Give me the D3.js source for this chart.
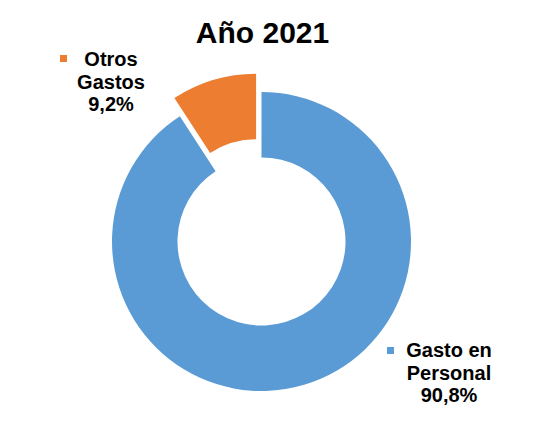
<!DOCTYPE html>
<html>
<head>
<meta charset="utf-8">
<script src="https://cdn.jsdelivr.net/npm/d3@7"></script>
<style>
  body { margin: 0; background: #fff; }
  text { font-family: "Liberation Sans", Arial, sans-serif; font-weight: bold; fill: #000; }
</style>
</head>
<body>
<svg id="chart" width="548" height="430"></svg>
<script>
// data
var titulo = "Año 2021";
var categorias = ["Gasto en Personal", "Otros Gastos"];
var valores = [90.8, 9.2];
var etiquetas = [["Gasto en", "Personal", "90,8%"], ["Otros", "Gastos", "9,2%"]];
var colores = ["#5B9BD5", "#ED7D31"];
var explosion = [0, 19];

var svg = d3.select("#chart");
var cx = 261.5, cy = 241.5;
var rOut = 149.5, rIn = 84;

svg.append("text")
    .attr("x", 262.5)
    .attr("y", 43)
    .attr("text-anchor", "middle")
    .style("font-size", "30px")
    .text(titulo);

var pie = d3.pie().sort(null).startAngle(0).endAngle(2 * Math.PI);
var arc = d3.arc().innerRadius(rIn).outerRadius(rOut);
var arcos = pie(valores);

var g = svg.append("g").attr("transform", "translate(" + cx + "," + cy + ")");

g.selectAll("path")
    .data(arcos)
  .enter().append("path")
    .attr("d", arc)
    .attr("fill", function(d, i) { return colores[i]; })
    .attr("transform", function(d, i) {
        var a = (d.startAngle + d.endAngle) / 2;
        var dx = Math.sin(a) * explosion[i], dy = -Math.cos(a) * explosion[i];
        return "translate(" + dx + "," + dy + ")";
    });

// label layout (positions only)
var posEtiq = [{x: 449, y: 357, mx: 387, my: 347}, {x: 111, y: 66, mx: 60, my: 55}];
var lh = 22.5;

posEtiq.forEach(function(p, i) {
    svg.append("rect")
        .attr("x", p.mx).attr("y", p.my)
        .attr("width", 7).attr("height", 7)
        .attr("fill", colores[i]);
    var t = svg.append("text")
        .attr("text-anchor", "middle")
        .style("font-size", "20px");
    etiquetas[i].forEach(function(l, j) {
        t.append("tspan").attr("x", p.x).attr("y", p.y + j * lh).text(l);
    });
});
</script>
</body>
</html>
